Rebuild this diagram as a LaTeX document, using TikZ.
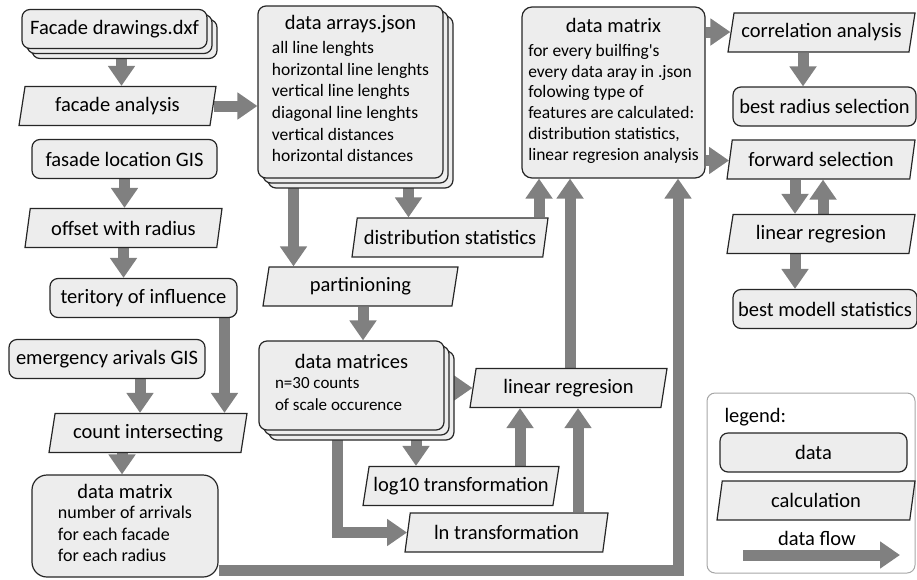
\documentclass[tikz,border=0pt]{standalone}
\usepackage{fontspec}
\setmainfont{Carlito}
\usepackage{tikz}
\usetikzlibrary{shapes,arrows.meta,shadows,backgrounds,positioning,calc}

\definecolor{boxfill}{HTML}{EDEDED}
\definecolor{boxline}{HTML}{262626}
\definecolor{flowgray}{HTML}{808080}
\definecolor{framegray}{HTML}{A6A6A6}
\newcommand{\ttlfont}{\fontsize{20.5pt}{24pt}\selectfont}
\newcommand{\bdyfont}{\fontsize{17.5pt}{21.7pt}\selectfont}

\tikzset{
  data/.style={draw=boxline,fill=boxfill,line width=1.2pt,rounded corners=8pt,
    minimum height=39pt,inner xsep=4pt,align=center,font=\ttlfont},
  calc/.style={trapezium,trapezium left angle=76,trapezium right angle=104,
    trapezium stretches body,draw=boxline,fill=boxfill,line width=1.2pt,
    minimum height=39pt,font=\ttlfont},
  stack/.style={copy shadow={shadow xshift=10pt,shadow yshift=-10pt},
    copy shadow={shadow xshift=5pt,shadow yshift=-5pt}},
  flow/.style={draw=flowgray,line width=11pt,-{Triangle[length=20pt,width=26pt]}}
}

\begin{document}
\begin{tikzpicture}[x=1pt,y=-1pt,node distance=70pt]
\useasboundingbox (0,0) rectangle (917,579);
% left column
\node[data,stack,minimum width=185pt] (fdxf) at (114.5,29) {Facade drawings.dxf};
\node[calc,minimum width=197pt] (fana) [below of=fdxf,node distance=77pt,xshift=3pt] {facade analysis};
\node[data,minimum width=185pt] (floc) [below of=fana,node distance=53pt,xshift=7pt] {fasade location GIS};
\node[calc,minimum width=197pt] (foff) [below of=floc,node distance=69pt,xshift=-1pt] {offset with radius};
\node[data,minimum width=187pt] (terr) [below of=foff,node distance=70pt,xshift=20pt] {teritory of influence};
\node[data,minimum width=196pt] (emer) [below of=terr,node distance=61pt,xshift=-36.5pt] {emergency arivals GIS};
\node[calc,minimum width=198pt] (count) [below of=emer,node distance=74pt,xshift=41pt] {count intersecting};
\node[data,rounded corners=15pt,minimum width=186pt,minimum height=102pt] (dmat1) [below of=count,node distance=93pt,xshift=-23pt]
  {data matrix\\[4pt]\fontsize{18pt}{21.5pt}\selectfont\begin{tabular}{@{}l@{}}number of arrivals\\for each facade\\for each radius\end{tabular}};
% middle column
\node[data,stack,minimum width=185pt,minimum height=172pt] (jarr) at (350.5,92)
  {data arrays.json\\[4pt]\bdyfont\begin{tabular}{@{}l@{}}all line lenghts\\horizontal line lenghts\\vertical line lenghts\\
   diagonal line lenghts\\vertical distances\\horizontal distances\end{tabular}};
\node[calc,minimum width=196pt] (dstat) at (450,237.5) {distribution statistics};
\node[calc,minimum width=195pt] (part) [below of=jarr,node distance=194.5pt,xshift=10pt] {partinioning};
\node[data,stack,minimum width=185pt,minimum height=89pt] (dmats) [below of=part,node distance=99pt,xshift=-9pt]
  {data matrices\\[3pt]\fontsize{17pt}{22pt}\selectfont\begin{tabular}{@{}p{153pt}@{}}n=30 counts\\of scale occurence\end{tabular}};
\node[calc,minimum width=197pt] (lreg1) at (568.5,388) {linear regresion};
\node[calc,minimum width=196pt] (log10) at (461,486) {log10 transformation};
\node[calc,minimum width=203pt] (ln) at (506.5,532.5) {ln transformation};
\node[data,rounded corners=10pt,minimum width=183pt,minimum height=171pt] (dmat2) at (613.5,92.5)
  {data matrix\\[8pt]\fontsize{17.5pt}{20.8pt}\selectfont\begin{tabular}{@{}l@{}}for every builfing\textquotesingle s\\every data aray in .json\\
   folowing type of\\features are calculated:\\distribution statistics,\\linear regresion analysis\end{tabular}};
% right column
\node[calc,minimum width=187pt] (corr) at (821.5,32.5) {correlation analysis};
\node[data,minimum width=183pt] (bestr) [below of=corr,node distance=74pt,xshift=3pt] {best radius selection};
\node[calc,minimum width=188pt] (fwd) [below of=bestr,node distance=53pt,xshift=-3.5pt] {forward selection};
\node[calc,minimum width=188pt] (lreg2) [below of=fwd,node distance=74.5pt] {linear regresion};
\node[data,minimum width=184pt] (bestm) [below of=lreg2,node distance=75pt,xshift=4pt] {best modell statistics};
% legend
\draw[draw=framegray,line width=1pt,rounded corners=8pt] (707,393) rectangle (915,573);
\node[font=\ttlfont,anchor=west] (ltitle) at (721,417) {legend:};
\node[data,minimum width=187pt] (ldata) at (813.5,452.5) {data};
\node[calc,minimum width=198pt] (lcalc) at (816,500.5) {calculation};
\node[font=\ttlfont] (lflow) at (817,538) {data flow};
\coordinate (lfs) at (743,555);
\coordinate (lfe) at (900,555);

\begin{scope}[on background layer]
\draw[flow] ([xshift=7pt]fdxf.south) -- ([xshift=7pt]fdxf.south |- fana.north);
\draw[flow] (fana.east) -- (fana.east -| jarr.west);
\draw[flow] (floc.south) -- (floc.south |- foff.north);
\draw[flow] (foff.south) -- (foff.south |- terr.north);
\draw[flow] ([xshift=81pt]terr.south) -- ([xshift=81pt]terr.south |- count.north);
\draw[flow] ([xshift=33pt]emer.south) -- ([xshift=33pt]emer.south |- count.north);
\draw[flow] ([xshift=-26pt]count.south) -- ([xshift=-26pt]count.south |- dmat1.north);
\draw[flow] ([xshift=-57pt]jarr.south) -- ([xshift=-57pt]jarr.south |- part.north);
\draw[flow] ([xshift=58pt]jarr.south) -- ([xshift=58pt]jarr.south |- dstat.north);
\draw[flow] ([xshift=2.5pt]part.south) -- ([xshift=2.5pt]part.south |- dmats.north);
\draw[flow] ([xshift=89pt]dstat.north) -- ([xshift=89pt]dstat.north |- dmat2.south);
\draw[flow] ([yshift=-2.5pt]dmats.east) -- ([yshift=-2.5pt]dmats.east -| lreg1.west);
\draw[flow] ([xshift=64.5pt]dmats.south) -- ([xshift=64.5pt]dmats.south |- log10.north);
\draw[flow] ([xshift=-14.5pt]dmats.south) |- (ln.west);
\draw[flow] ([xshift=59pt]log10.north) -- ([xshift=59pt]log10.north |- lreg1.south);
\draw[flow] ([xshift=71.5pt]ln.north) -- ([xshift=71.5pt]ln.north |- lreg1.south);
\draw[flow] ([xshift=1.5pt]lreg1.north) -- ([xshift=1.5pt]lreg1.north |- dmat2.south);
\draw[flow] ([yshift=-44pt]dmat1.east) -| ([xshift=64.5pt]dmat2.south);
\draw[flow] ([yshift=60.5pt]dmat2.east) -- ([yshift=60.5pt]dmat2.east -| corr.west);
\draw[flow] ([yshift=-68pt]dmat2.east) -- ([yshift=-68pt]dmat2.east -| fwd.west);
\draw[flow] ([xshift=-18.5pt]corr.south) -- ([xshift=-18.5pt]corr.south |- bestr.north);
\draw[flow] ([xshift=-26pt]fwd.south) -- ([xshift=-26pt]fwd.south |- lreg2.north);
\draw[flow] ([xshift=2pt]lreg2.north) -- ([xshift=2pt]lreg2.north |- fwd.south);
\draw[flow] ([xshift=-26pt]lreg2.south) -- ([xshift=-26pt]lreg2.south |- bestm.north);
\draw[flow] (lfs) -- (lfe);
\end{scope}
\end{tikzpicture}
\end{document}
